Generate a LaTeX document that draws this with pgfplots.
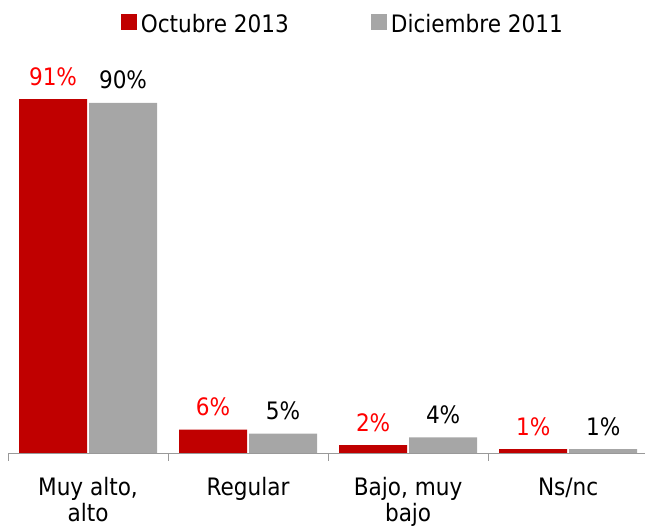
\documentclass[border=0pt]{standalone}
\usepackage{pgfplots}
\pgfplotsset{compat=1.18}
\usepackage{fontspec}
\setmainfont{DejaVu Sans Condensed}
\definecolor{cred}{HTML}{C00000}
\definecolor{cgray}{HTML}{A6A6A6}
\definecolor{lred}{HTML}{FF0000}
\begin{document}
\begin{tikzpicture}
\useasboundingbox (0,0) rectangle (645pt,529pt);
\begin{axis}[
  at={(8pt,76pt)}, anchor=south west,
  scale only axis, width=637pt, height=389pt,
  xmin=-0.5, xmax=3.48, ymin=0, ymax=100,
  clip=false,
  /pgf/number format/assume math mode=true,
  ybar, bar width=68pt,
  hide y axis,
  axis x line=bottom,
  axis line style={-, draw=gray!80},
  xtick={0,1,2,3},
  xticklabels={{Muy alto,\\alto},{Regular},{Bajo, muy\\bajo},{Ns/nc}},
  xticklabel style={align=center, font=\fontsize{24}{26}\selectfont, yshift=-21pt, anchor=north},
  major tick length=0pt,
  extra x ticks={-0.5,0.5,1.5,2.5},
  extra x tick labels={},
  extra x tick style={major tick length=8pt, tick align=outside, tick style={draw=gray!80, thick}},
  legend columns=2,
  legend style={draw=none, fill=none, at={(0.172,1.103)}, anchor=west, font=\fontsize{24}{28}\selectfont,
    /tikz/every even column/.append style={column sep=80pt},
    /tikz/every odd column/.append style={column sep=2pt}},
  legend image code/.code={\fill[#1] (0pt,-6pt) rectangle (16pt,10pt);},
  nodes near coords={\pgfmathprintnumber{\pgfplotspointmeta}\%},
  every node near coord/.append style={font=\fontsize{24}{28}\selectfont, anchor=base, yshift=14pt},
]
\addplot[fill=cred, draw=none, nodes near coords style={text=lred}] coordinates {(0,91) (1,6) (2,2) (3,1)};
\addplot[fill=cgray, draw=none, nodes near coords style={text=black}] coordinates {(0,90) (1,5) (2,4) (3,1)};
\legend{Octubre 2013, Diciembre 2011}
\end{axis}
\end{tikzpicture}
\end{document}
